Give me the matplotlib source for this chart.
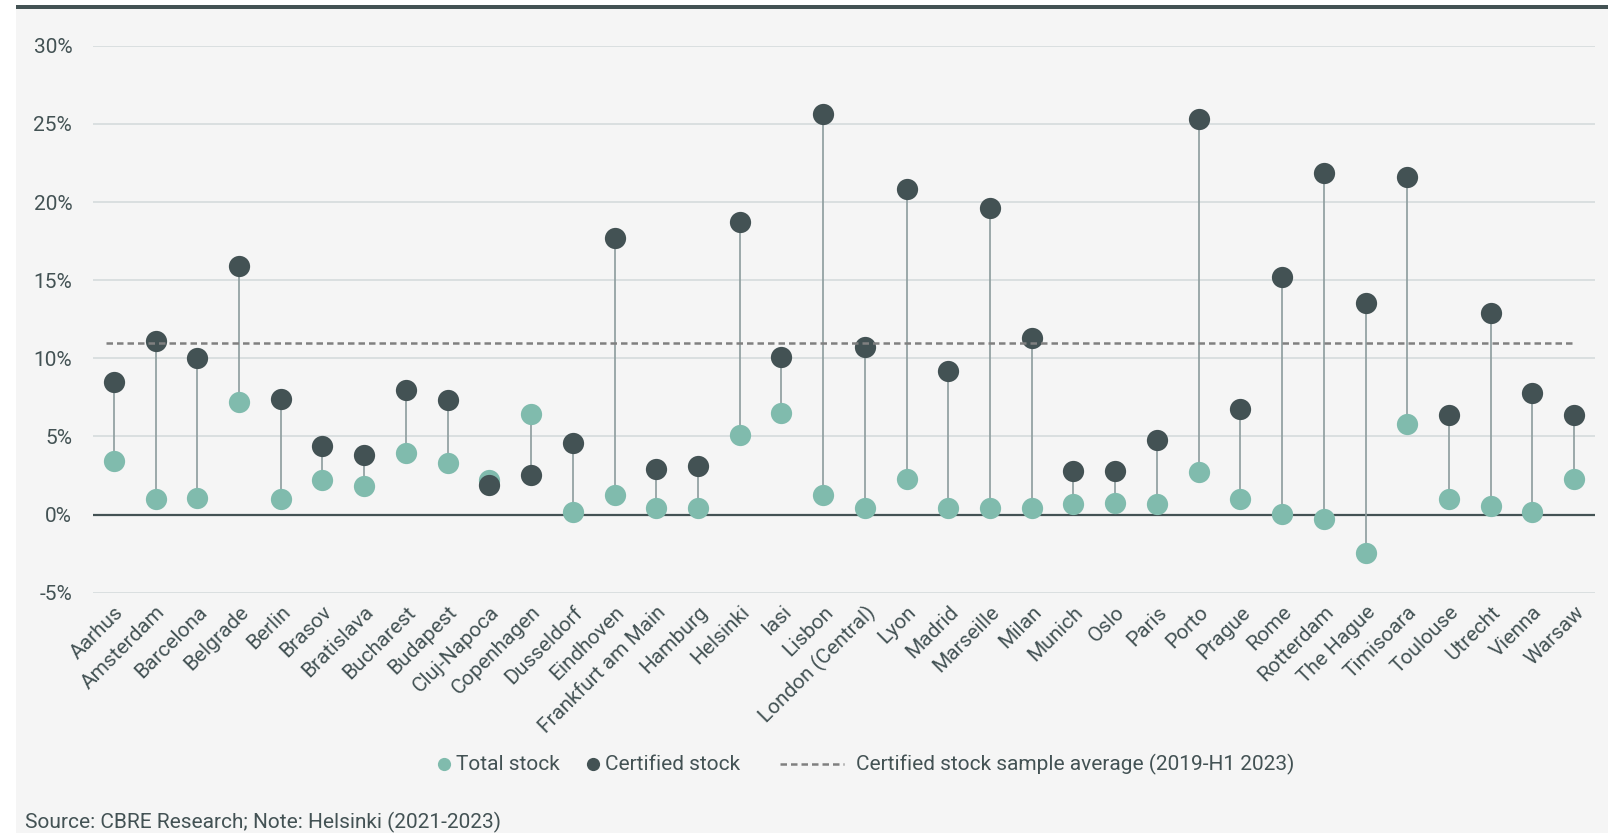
import matplotlib
matplotlib.use("Agg")
import matplotlib.pyplot as plt
from matplotlib.lines import Line2D
from matplotlib.patches import Rectangle
from matplotlib.ticker import FuncFormatter

plt.rcParams["font.family"] = ["Roboto", "DejaVu Sans"]

# ---- data -------------------------------------------------------------
cities = [
    "Aarhus", "Amsterdam", "Barcelona", "Belgrade", "Berlin", "Brasov",
    "Bratislava", "Bucharest", "Budapest", "Cluj-Napoca", "Copenhagen",
    "Dusseldorf", "Eindhoven", "Frankfurt am Main", "Hamburg", "Helsinki",
    "Iasi", "Lisbon", "London (Central)", "Lyon", "Madrid", "Marseille",
    "Milan", "Munich", "Oslo", "Paris", "Porto", "Prague", "Rome",
    "Rotterdam", "The Hague", "Timisoara", "Toulouse", "Utrecht", "Vienna",
    "Warsaw",
]
total_stock = [
    3.4, 1.0, 1.05, 7.2, 1.0, 2.2,
    1.85, 3.95, 3.3, 2.2, 6.45,
    0.15, 1.25, 0.4, 0.4, 5.1,
    6.5, 1.25, 0.45, 2.3, 0.4, 0.4,
    0.45, 0.7, 0.75, 0.7, 2.75, 1.0, 0.05,
    -0.25, -2.45, 5.8, 1.0, 0.55, 0.2,
    2.3,
]
certified_stock = [
    8.5, 11.1, 10.0, 15.9, 7.4, 4.4,
    3.8, 7.95, 7.35, 1.9, 2.55,
    4.6, 17.7, 2.95, 3.1, 18.7,
    10.1, 25.6, 10.7, 20.85, 9.2, 19.6,
    11.3, 2.8, 2.8, 4.8, 25.3, 6.75, 15.2,
    21.85, 13.55, 21.6, 6.4, 12.9, 7.8,
    6.35,
]
certified_average = 11.0
y_ticks = [-5, 0, 5, 10, 15, 20, 25, 30]

legend_labels = ["Total stock", "Certified stock",
                 "Certified stock sample average (2019-H1 2023)"]
source_note = "Source: CBRE Research; Note: Helsinki (2021-2023)"

# ---- style ------------------------------------------------------------
DARK = "#435254"
TEAL = "#80bbad"
STEM = "#8c9c9d"
GRID = "#d3d9da"
PANEL = "#f5f5f5"
DASH = "#808080"
FS = 15

W, H = 1611, 833
fig = plt.figure(figsize=(W / 100, H / 100), dpi=100)
fig.patch.set_facecolor("white")


def fx(px):
    return px / W


def fy(px):
    return 1 - px / H


# panel background and top rule
fig.add_artist(Rectangle((fx(16), 0), fx(1608 - 16), fy(9),
                         transform=fig.transFigure, facecolor=PANEL,
                         edgecolor="none", zorder=0))
fig.add_artist(Rectangle((fx(16), fy(9)), fx(1608 - 16), 4 / H,
                         transform=fig.transFigure, facecolor=DARK,
                         edgecolor="none", zorder=0))

ax_left, ax_right = 93, 1595
ax_top, ax_bottom = 45.7, 592.8
ax = fig.add_axes([fx(ax_left), fy(ax_bottom),
                   fx(ax_right - ax_left), (ax_bottom - ax_top) / H])
ax.set_facecolor("none")

x = list(range(len(cities)))

# stems between the two values
ax.vlines(x, total_stock, certified_stock, color=STEM, lw=1.2, zorder=2)
ax.axhline(0, color=DARK, lw=1.6, zorder=1.5)

ms = 15.3
ax.plot(x, total_stock, "o", color=TEAL, ms=ms, mew=0, zorder=3,
        clip_on=False)
ax.plot(x, certified_stock, "o", color=DARK, ms=ms, mew=0, zorder=4,
        clip_on=False)

# sample average reference line
dash_style = (0, (2.6, 1.6))
ax.plot([-0.2, len(cities) - 1 + 0.02],
        [certified_average, certified_average],
        color=DASH, lw=1.8, linestyle=dash_style, zorder=5)

ax.set_xlim(-0.5, len(cities) - 0.5)
ax.set_ylim(-5, 30)
ax.set_yticks(y_ticks)
ax.yaxis.set_major_formatter(FuncFormatter(lambda v, _: f"{v:.0f}%"))
ax.set_xticks(x)
ax.set_xticklabels(cities, rotation=45, ha="right", va="top",
                   rotation_mode="anchor")

ax.yaxis.grid(True, color=GRID, lw=1.1)
ax.set_axisbelow(True)
for s in ax.spines.values():
    s.set_visible(False)
ax.tick_params(axis="both", length=0, labelcolor=DARK, labelsize=FS)
ax.tick_params(axis="y", pad=15)
ax.tick_params(axis="x", pad=7)

# legend row
ly = fy(764)
fig.add_artist(Line2D([fx(444)], [ly], marker="o", ls="none", color=TEAL,
                      ms=9.5, mew=0, transform=fig.transFigure))
fig.text(fx(456), ly, legend_labels[0], ha="left", va="center",
         fontsize=FS, color=DARK)
fig.add_artist(Line2D([fx(593)], [ly], marker="o", ls="none", color=DARK,
                      ms=9.5, mew=0, transform=fig.transFigure))
fig.text(fx(605), ly, legend_labels[1], ha="left", va="center",
         fontsize=FS, color=DARK)
fig.add_artist(Line2D([fx(780), fx(844)], [ly, ly], color=DASH, lw=1.8,
                      linestyle=dash_style, transform=fig.transFigure))
fig.text(fx(856), ly, legend_labels[2], ha="left", va="center",
         fontsize=FS, color=DARK)

fig.text(fx(25), fy(822), source_note, ha="left", va="center",
         fontsize=FS, color=DARK)

fig.savefig("out.png", dpi=100, facecolor=fig.get_facecolor())
